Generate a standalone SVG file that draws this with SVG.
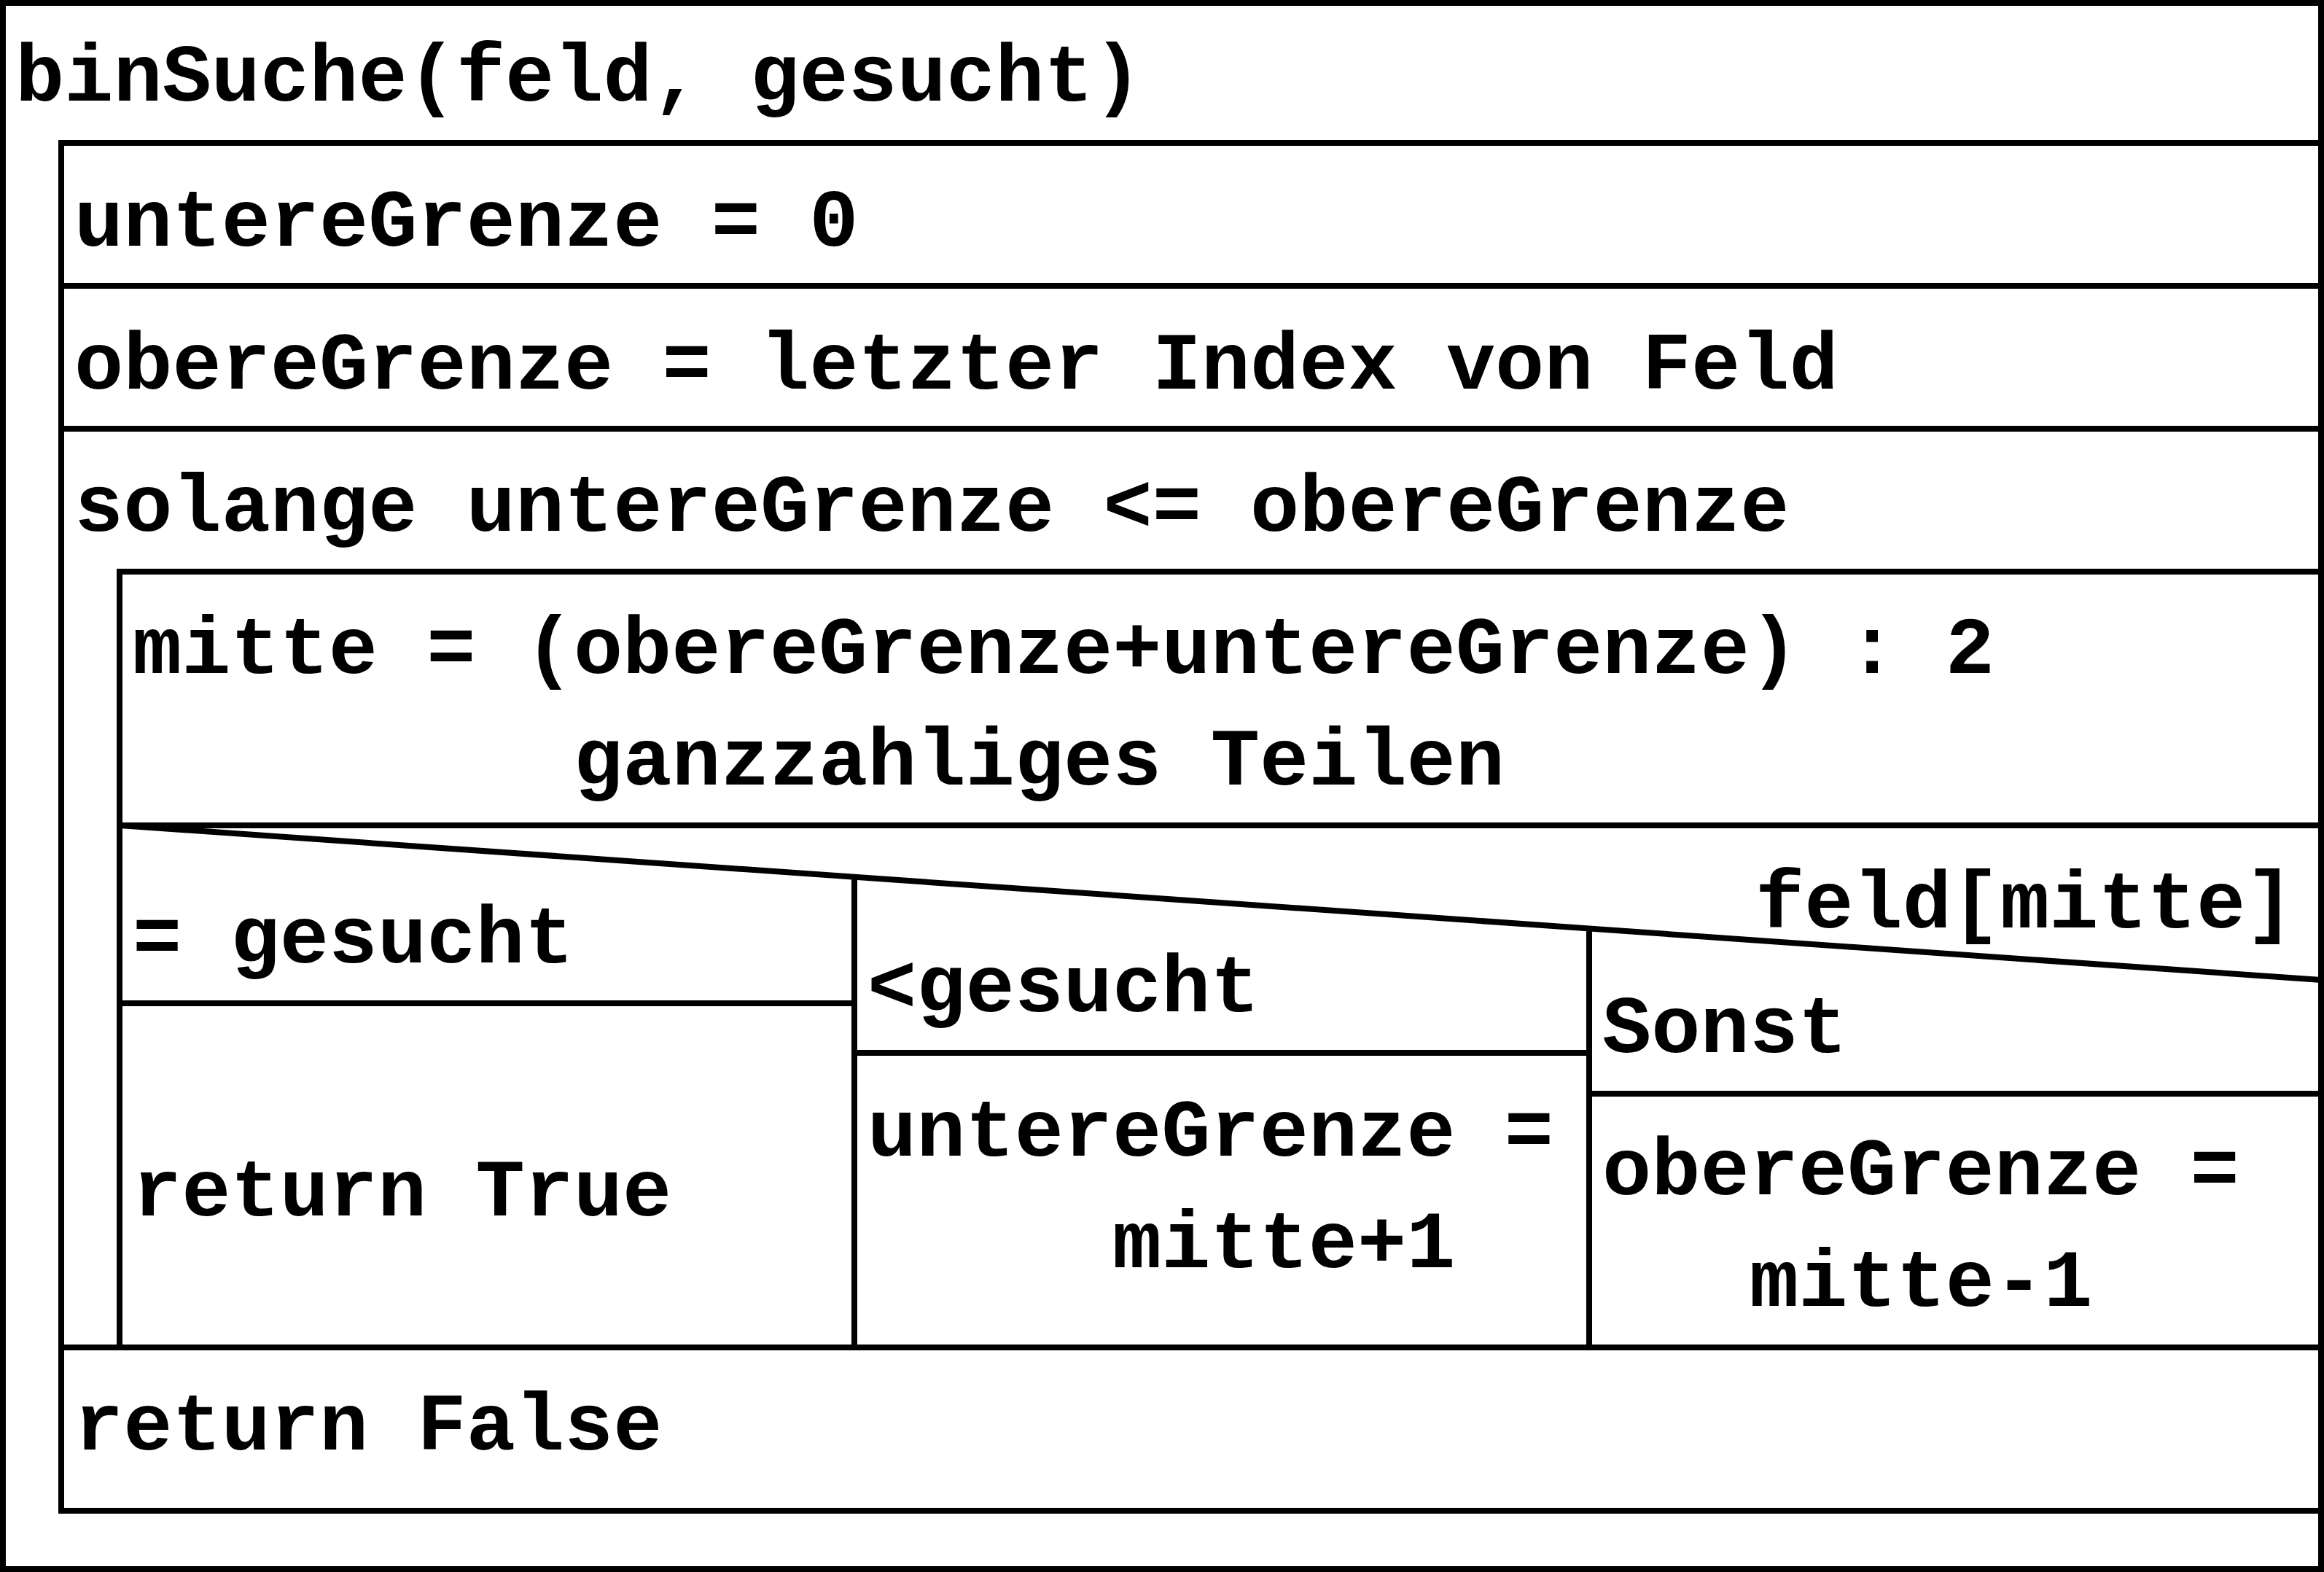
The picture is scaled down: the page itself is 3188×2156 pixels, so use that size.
<svg xmlns="http://www.w3.org/2000/svg" width="3188" height="2156" viewBox="0 0 3188 2156">
<style>
  .ln { stroke: #000; stroke-width: 8; fill: none; stroke-linecap: square; }
  .dg { stroke: #000; stroke-width: 8; fill: none; stroke-linecap: butt; }
  .tx { font-family: "Liberation Mono", "Courier New", "DejaVu Sans Mono", monospace; font-weight: bold; font-size: 112px; fill: #000; }
</style>
<rect x="0" y="0" width="3188" height="2156" fill="#fff"/>
<g id="function">
  <rect class="ln" x="4" y="4" width="3180" height="2148"/>
  <text class="tx" x="21" y="138">binSuche(feld, gesucht)</text>
</g>
<g id="sequence">
  <rect class="ln" x="84" y="196" width="3100" height="1876"/>
</g>
<g id="stmt-untereGrenze">
  <text class="tx" x="102" y="337">untereGrenze = 0</text>
</g>
<g id="stmt-obereGrenze">
  <line class="ln" x1="84" y1="392" x2="3184" y2="392"/>
  <text class="tx" x="102" y="533">obereGrenze = letzter Index von Feld</text>
</g>
<g id="loop">
  <line class="ln" x1="84" y1="588" x2="3184" y2="588"/>
  <text class="tx" x="102" y="728">solange untereGrenze &lt;= obereGrenze</text>
  <line class="ln" x1="164" y1="784" x2="3184" y2="784"/>
  <line class="ln" x1="164" y1="784" x2="164" y2="1848"/>
</g>
<g id="stmt-mitte">
  <text class="tx" x="182" y="923">mitte = (obereGrenze+untereGrenze) : 2</text>
  <text class="tx" x="787" y="1076">ganzzahliges Teilen</text>
</g>
<g id="case">
  <line class="ln" x1="164" y1="1132" x2="3184" y2="1132"/>
  <text class="tx" x="2408" y="1272">feld[mitte]</text>
</g>
<g id="case-gleich">
  <text class="tx" x="182" y="1320">= gesucht</text>
  <line class="ln" x1="164" y1="1376" x2="1172" y2="1376"/>
  <text class="tx" x="182" y="1667">return True</text>
</g>
<g id="case-kleiner">
  <text class="tx" x="1190" y="1387">&lt;gesucht</text>
  <line class="ln" x1="1172" y1="1444" x2="2180" y2="1444"/>
  <text class="tx" x="1190" y="1585">untereGrenze =</text>
  <text class="tx" x="1526" y="1738">mitte+1</text>
</g>
<g id="case-sonst">
  <text class="tx" x="2198" y="1443">Sonst</text>
  <line class="ln" x1="2180" y1="1500" x2="3184" y2="1500"/>
  <text class="tx" x="2198" y="1638">obereGrenze =</text>
  <text class="tx" x="2400" y="1791">mitte-1</text>
</g>
<g id="stmt-returnFalse">
  <line class="ln" x1="84" y1="1848" x2="3184" y2="1848"/>
  <text class="tx" x="102" y="1988">return False</text>
</g>
<g id="connectors">
  <line class="dg" x1="164" y1="1132" x2="3184" y2="1344"/>
  <line class="ln" x1="1172" y1="1203" x2="1172" y2="1848"/>
  <line class="ln" x1="2180" y1="1274" x2="2180" y2="1848"/>
</g>
</svg>
